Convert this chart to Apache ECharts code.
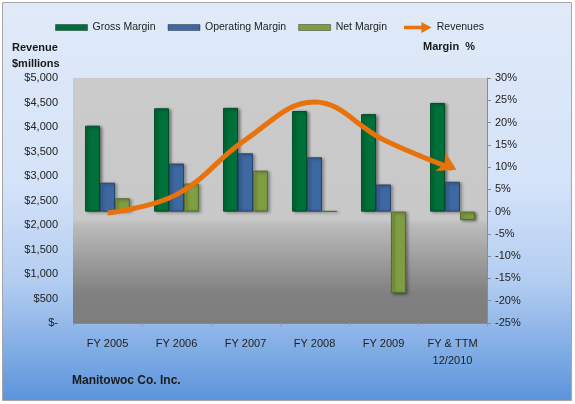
<!DOCTYPE html>
<html><head><meta charset="utf-8">
<script src="https://cdn.jsdelivr.net/npm/echarts@6/dist/echarts.min.js"></script>
<style>html,body{margin:0;padding:0;background:#fff}#c{width:575px;height:404px}</style>
</head><body><div id="c"></div>
<script>
const categories = ['FY 2005','FY 2006','FY 2007','FY 2008','FY 2009','FY & TTM\n12/2010'];
const grossMargin = [19.3, 23.2, 23.3, 22.6, 21.9, 24.4];
const operatingMargin = [6.5, 10.8, 13.1, 12.2, 6.1, 6.7];
const netMargin = [3.0, 6.3, 9.2, 0.1, -18.3, -1.9];
const revenues = [2245, 2620, 3740, 4510, 3740, 3150];

const FONT = 'Liberation Sans';
const chart = echarts.init(document.getElementById('c'), null, {renderer:'canvas'});

function barStyle(c, border){
  return {color:c, borderColor:border, borderWidth:1,
    shadowColor:'rgba(0,0,0,0.45)', shadowBlur:3, shadowOffsetX:2, shadowOffsetY:1};
}
const revData = revenues.map((v,i)=> i===revenues.length-1
  ? {value:v, symbol:'arrow', symbolSize:[16,18], symbolRotate:-117, symbolOffset:[4,1]}
  : {value:v, symbol:'none'});

chart.setOption({
  backgroundColor:'#ffffff',
  animation:false,
  textStyle:{fontFamily:FONT},
  graphic:[
    {type:'rect', z:-10, silent:true, shape:{x:2.5,y:2.5,width:569,height:398},
     style:{fill:{type:'linear',x:0,y:0,x2:0,y2:1,colorStops:[
       {offset:0,color:'#E0EAF8'},{offset:0.45,color:'#D5E3F9'},
       {offset:0.7,color:'#B3CDF1'},{offset:1,color:'#5B94DC'}]},
       stroke:'#A6A6A6', lineWidth:1}},
    {type:'text', left:12, top:40, style:{text:'Revenue\n$millions', font:'bold 11px '+FONT, fill:'#1a1a1a', lineHeight:16}},
    {type:'text', right:100, top:41, style:{text:'Margin  %', font:'bold 11px '+FONT, fill:'#1a1a1a'}},
    {type:'text', left:72, top:375, style:{text:'Manitowoc Co. Inc.', font:'bold 12px '+FONT, fill:'#1a1a1a'}}
  ],
  legend:[
    {left:50, top:17, itemWidth:32, itemHeight:6, itemGap:12, icon:'rect',
     itemStyle:{borderWidth:1, borderColor:'rgba(0,0,0,0.35)'},
     textStyle:{fontSize:10.5, color:'#222', fontFamily:FONT},
     data:['Gross Margin','Operating Margin','Net Margin']},
    {left:399, top:17, itemWidth:28, itemHeight:11,
     textStyle:{fontSize:10.5, color:'#222', fontFamily:FONT},
     data:[{name:'Revenues', icon:'path://M0,4 L19,4 L19,0 L30,6 L19,12 L19,8 L0,8 Z'}]}
  ],
  grid:{left:73, right:88, top:78, bottom:81},
  xAxis:{type:'category', data:categories,
    axisLine:{show:false},
    axisTick:{show:true, length:3, lineStyle:{color:'#9a9a9a'}},
    axisLabel:{fontSize:11, color:'#222', margin:12, lineHeight:17, fontFamily:FONT}},
  yAxis:[
    {type:'value', min:0, max:5000, interval:500, position:'left',
     axisLine:{show:false}, axisTick:{show:false},
     axisLabel:{fontSize:11, color:'#222', margin:15, fontFamily:FONT,
       formatter:v=> v===0 ? '$-' : '$'+v.toLocaleString('en-US')},
     splitLine:{lineStyle:{color:'#878787', width:1}},
     splitArea:{show:false}},
    {type:'value', min:-25, max:30, interval:5, position:'right',
     axisLine:{show:true, lineStyle:{color:'#8c8c8c'}},
     axisTick:{show:true, length:4, lineStyle:{color:'#8c8c8c'}},
     axisLabel:{fontSize:11, color:'#222', margin:8, fontFamily:FONT, formatter:v=>v+'%'},
     splitLine:{show:false}}
  ],
  series:[
    {type:'custom', silent:true, z:0, renderItem:function(params, api){
      const cs = params.coordSys;
      return {type:'rect', shape:{x:cs.x,y:cs.y,width:cs.width,height:cs.height},
        style:{fill:{type:'linear',x:0,y:0,x2:0,y2:1,colorStops:[
          {offset:0,color:'#CBCBCB'},{offset:0.58,color:'#C8C8C8'},{offset:0.595,color:'#BCBCBC'},
          {offset:0.88,color:'#808080'},{offset:1,color:'#7E7E7E'}]}}};
    }, data:[0]},
    {name:'Gross Margin', type:'bar', yAxisIndex:1, data:grossMargin, barGap:'0%', barCategoryGap:'35%',
     itemStyle:barStyle('#00703A','#004D26'), z:2},
    {name:'Operating Margin', type:'bar', yAxisIndex:1, data:operatingMargin,
     itemStyle:barStyle('#3E68A2','#27456F'), z:2},
    {name:'Net Margin', type:'bar', yAxisIndex:1, data:netMargin,
     itemStyle:barStyle('#7F9D42','#556B2A'), z:2},
    {name:'Revenues', type:'line', yAxisIndex:0, data:revData, smooth:0.4,
     lineStyle:{color:'#E8720C', width:5}, itemStyle:{color:'#E8720C'}, z:5}
  ]
});
</script></body></html>
